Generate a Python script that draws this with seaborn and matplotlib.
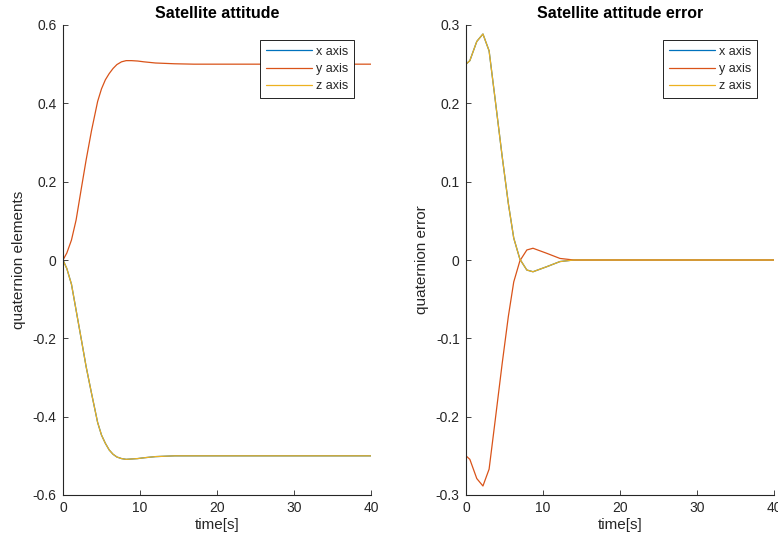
import matplotlib
matplotlib.use("Agg")
import matplotlib.pyplot as plt
from matplotlib.ticker import FuncFormatter
import seaborn as sns
import pandas as pd

# ---------------- data ----------------
att_time = [0, 0.5, 1.1, 1.7, 2.4, 3.0, 3.7, 4.5, 5.0, 5.5, 6.0, 6.5, 7.0, 7.6, 8.2, 8.9, 9.7,
            10.5, 12, 14.5, 17, 20, 25, 30, 35, 40]
att_x = [0, -0.022, -0.062, -0.128, -0.205, -0.272, -0.340, -0.415, -0.447, -0.468, -0.485, -0.496,
         -0.503, -0.507, -0.509, -0.508, -0.507, -0.505, -0.502, -0.500, -0.500, -0.500, -0.500,
         -0.500, -0.500, -0.500]
att_y = [0, 0.018, 0.051, 0.102, 0.185, 0.255, 0.330, 0.405, 0.437, 0.460, 0.476, 0.489,
         0.499, 0.506, 0.509, 0.509, 0.508, 0.506, 0.503, 0.501, 0.500, 0.500, 0.500,
         0.500, 0.500, 0.500]
att_z = list(att_x)

err_time = [0, 0.5, 1.4, 2.2, 3.0, 3.8, 4.7, 5.5, 6.2, 7.0, 7.9, 8.7, 10.5, 12.2, 14, 17, 20, 25, 30, 35, 40]
err_x = [0.250, 0.2545, 0.279, 0.2885, 0.267, 0.204, 0.132, 0.072, 0.028, 0.001, -0.0128, -0.015,
         -0.0085, -0.002, 0, 0, 0, 0, 0, 0, 0]
err_y = [-0.250, -0.2545, -0.279, -0.2885, -0.267, -0.204, -0.132, -0.072, -0.028, -0.001, 0.0128, 0.015,
         0.0085, 0.002, 0, 0, 0, 0, 0, 0, 0]
err_z = list(err_x)

series_names = ["x axis", "y axis", "z axis"]
colors = ["#0072BD", "#D95319", "#EDB120"]

titles = ["Satellite attitude", "Satellite attitude error"]
ylabels = ["quaternion elements", "quaternion error"]
xlabel = "time[s]"
x_ticks = [0, 10, 20, 30, 40]
att_yticks = [-0.6, -0.4, -0.2, 0, 0.2, 0.4, 0.6]
err_yticks = [-0.3, -0.2, -0.1, 0, 0.1, 0.2, 0.3]


def long_df(t, xs, ys, zs):
    rows = []
    for name, vals in zip(series_names, [xs, ys, zs]):
        for tt, v in zip(t, vals):
            rows.append({"time": tt, "value": v, "axis": name})
    return pd.DataFrame(rows)


df_att = long_df(att_time, att_x, att_y, att_z)
df_err = long_df(err_time, err_x, err_y, err_z)

# ---------------- style ----------------
sns.set_style("ticks")
plt.rcParams["font.family"] = ["Liberation Sans", "DejaVu Sans"]
plt.rcParams["axes.unicode_minus"] = False
edge = "#262626"

fig = plt.figure(figsize=(7.78, 5.46), dpi=100)
W, H = 778, 546
axes = [fig.add_axes([63 / W, (H - 495) / H, 308 / W, 470 / H]),
        fig.add_axes([466 / W, (H - 495) / H, 308 / W, 470 / H])]

datasets = [df_att, df_err]
ylims = [(-0.6, 0.6), (-0.3, 0.3)]
yticks = [att_yticks, err_yticks]

for ax, df, title, ylab, yl, yt in zip(axes, datasets, titles, ylabels, ylims, yticks):
    sns.lineplot(data=df, x="time", y="value", hue="axis", palette=colors,
                 hue_order=series_names, estimator=None, sort=True, linewidth=0.9, ax=ax)
    ax.set_xlim(0, 40)
    ax.set_ylim(*yl)
    ax.set_xticks(x_ticks)
    ax.set_yticks(yt)
    ax.yaxis.set_major_formatter(FuncFormatter(lambda v, p: "%g" % round(v, 3)))
    ax.xaxis.set_major_formatter(FuncFormatter(lambda v, p: "%g" % v))
    for s in ["top", "right"]:
        ax.spines[s].set_visible(False)
    for s in ["left", "bottom"]:
        ax.spines[s].set_color(edge)
        ax.spines[s].set_linewidth(0.8)
    ax.tick_params(direction="in", length=3.6, width=0.6, color=edge,
                   labelcolor=edge, labelsize=10, pad=4.5)
    ax.set_title(title, fontsize=11.5, fontweight="bold", color="black", pad=5)
    ax.set_xlabel(xlabel, fontsize=11, color=edge, labelpad=2)
    ax.set_ylabel(ylab, fontsize=11, color=edge, labelpad=5)
    ax.grid(False)
    leg = ax.legend(loc="upper right", bbox_to_anchor=(0.945, 0.968), borderaxespad=0,
                    fontsize=9, frameon=True, fancybox=False, framealpha=1,
                    edgecolor="black", handlelength=3.7, handletextpad=0.35,
                    labelspacing=0.42, borderpad=0.45, title=None)
    leg.get_frame().set_linewidth(0.6)
    for line in leg.get_lines():
        line.set_linewidth(0.9)

fig.savefig("out.png", dpi=100)
